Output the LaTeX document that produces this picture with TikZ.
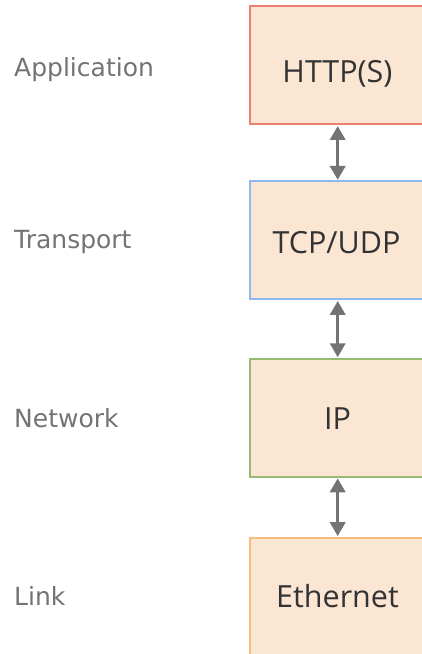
\documentclass[tikz,border=0pt]{standalone}
\usepackage{fontspec}
\setmainfont{Open Sans}
\newfontfamily\labelfont{DejaVu Sans}
\usetikzlibrary{arrows.meta}
\definecolor{layerfill}{HTML}{FAE6D3}
\definecolor{appline}{HTML}{EE8070}
\definecolor{tcpline}{HTML}{8DB9EE}
\definecolor{ipline}{HTML}{98BB74}
\definecolor{linkline}{HTML}{F5BE7E}
\definecolor{arrowgray}{HTML}{737373}
\definecolor{labelgray}{HTML}{737373}
\definecolor{boxtext}{HTML}{333333}
\tikzset{
  layerbox/.style={draw, line width=2pt, fill=layerfill, minimum width=177pt,
    minimum height=118pt, inner sep=0pt},
  protocol/.style={anchor=base, inner sep=0pt, text=boxtext, font=\fontsize{30.5}{36}\selectfont},
  layername/.style={anchor=base west, text=labelgray, inner sep=0pt, font=\labelfont\fontsize{25}{30}\selectfont},
  linkarrow/.style={arrowgray, line width=3.5pt, {Triangle[width=15pt,length=14pt]}-{Triangle[width=15pt,length=14pt]}, shorten <=0.5pt, shorten >=0.5pt}
}
\begin{document}
\begin{tikzpicture}[x=1pt,y=1pt]
  \useasboundingbox (0,0) rectangle (422,654);
  \clip (0,0) rectangle (422,654);
  % protocol stack boxes (right side runs off the page)
  \node[layerbox, draw=appline]  (http) at (338.5,588.5) {};
  \node[layerbox, draw=tcpline]  (tcp)  at (338.5,413.6) {};
  \node[layerbox, draw=ipline]   (ip)   at (338.5,236.2) {};
  \node[layerbox, draw=linkline] (eth)  at (338.5,57.3)  {};
  % protocol names
  \node[protocol] (httptxt) at (337.5,571) {HTTP(S)};
  \node[protocol] (tcptxt)  at (336.5,400) {TCP/UDP};
  \node[protocol] (iptxt)   at (337.5,224) {IP};
  \node[protocol] (ethtxt)  at (337.5,46)  {Ethernet};
  % layer names
  \node[layername] (app)  at (14,577) {Application};
  \node[layername] (tra)  at (14,405) {Transport};
  \node[layername] (net)  at (14,226.5) {Network};
  \node[layername] (lnk)  at (14,48)  {Link};
  % arrows between layers
  \coordinate (a1) at (337.7,0);
  \draw[linkarrow] (http.south -| a1) -- (tcp.north -| a1);
  \draw[linkarrow] (tcp.south -| a1) -- (ip.north -| a1);
  \draw[linkarrow] (ip.south -| a1) -- (eth.north -| a1);
\end{tikzpicture}
\end{document}
